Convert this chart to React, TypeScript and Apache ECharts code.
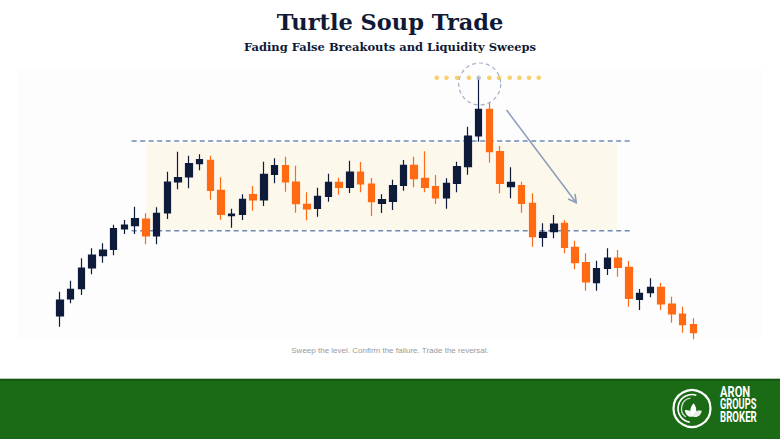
import React, { useEffect, useRef } from "react";
import * as echarts from "echarts";

// ---------- data ----------
const categories = Array.from({ length: 60 }, (_, i) => `Bar ${i + 1}`);

const opens = [
  24, 41, 51.3, 72, 84.3, 90.7, 111, 114.3, 121, 104,
  127, 158, 163, 176.3, 179.7, 149.7, 124.3, 125.7, 145.3, 140,
  165.7, 174.3, 158, 135.7, 131.7, 143.7, 157.7, 152.7, 168, 156,
  136.7, 138.7, 154.7, 174.7, 161.7, 153.3, 142, 156.7, 173.3, 204,
  230.7, 188.3, 153.3, 154.3, 136.7, 102.7, 108.3, 116.7, 92.7, 77.3,
  57.3, 71.7, 82, 72.7, 40.7, 47.3, 52.7, 36, 26, 15.3,
];
const closes = [
  40, 50.7, 72, 85, 90, 111.3, 115, 121.3, 104, 126.7,
  158, 162.3, 176.3, 180.3, 149.7, 125.7, 126, 140.7, 140, 165.7,
  174.3, 158, 136.3, 131, 143.7, 157.7, 152.7, 168, 156, 138.3,
  140.3, 154.3, 174.7, 161.3, 152.7, 142, 156.7, 173.3, 204, 230.7,
  188.3, 156.7, 157.7, 136.7, 103.3, 107.7, 116, 92.7, 77.3, 58,
  71.3, 82, 72.7, 41.7, 46.7, 52.7, 36, 26, 15.3, 7.3,
];
const lows = [
  13.3, 36.7, 45, 65.7, 77.3, 84.7, 106, 106, 95.7, 95.7,
  121, 150.7, 151.7, 169.7, 140.3, 120.3, 112.3, 120, 129.3, 134,
  156.7, 148.3, 127.3, 119.7, 123.3, 138.3, 145.3, 147, 147.7, 124,
  127, 130, 149.3, 152.7, 147.7, 136, 131.3, 147.7, 165.3, 198.3,
  177.3, 146.7, 141.7, 127.3, 93.3, 93.3, 101.7, 86.7, 70.7, 49.3,
  49.3, 65, 63.3, 33.3, 30, 42.7, 30, 17.3, 7.3, 0.7,
];
const highs = [
  48.3, 59.3, 81.7, 91.7, 96.7, 115.3, 120, 133.3, 126.7, 132.7,
  168.3, 188.3, 184.3, 185.7, 184.3, 162.7, 131.3, 145.7, 154, 178.3,
  181.7, 183.3, 174.3, 147.7, 152.3, 166.3, 162.3, 179.3, 178, 162,
  145.7, 160.3, 180, 183.3, 188.7, 165, 161.7, 178.3, 213.3, 262,
  237.3, 194, 172.7, 158.3, 146.7, 116.7, 125, 120, 99.3, 86.7,
  79.3, 91.7, 90, 79, 51, 61.7, 57.3, 43.3, 33.3, 21.7,
];

// range / sweep levels (price units)
const rangeHigh = 199;
const rangeLow = 109.3;
const zoneTop = 197;
const zoneBottom = 110;
const sweepLevel = 262.3;

// overlay positions on the bar-index scale
const levelSpan = [6.68, 53.29];
const zoneSpan = [8.0, 51.9];
const sweepDotsX = [35.1, 36.0, 37.0, 38.1, 39.0, 40.0, 40.9, 41.9, 42.8, 43.7, 44.6];
const sweepWickIndex = 39;
const circleCenter = [39.1, 256];
const arrowFrom = [41.6, 230];
const arrowTo = [48.1, 137.3];

const texts = {
  title: "Turtle Soup Trade",
  subtitle: "Fading False Breakouts and Liquidity Sweeps",
  caption: "Sweep the level. Confirm the failure. Trade the reversal.",
  brand: ["ARON", "GROUPS", "BROKER"],
};

const NAVY = "#0f1b3b";
const ORANGE = "#ff6a12";
const LEVEL = "#6f89b2";

const LEAF =
  "M0 0 C-5 -3 -5.5 -9 0 -14 C5.5 -9 5 -3 0 0 Z";

export default function App() {
  const ref = useRef<HTMLDivElement>(null);

  useEffect(() => {
    if (!ref.current) return;
    try {
      echarts.graphic.registerShape("leaf", echarts.graphic.extendPath(LEAF, {}));
    } catch (e) {}
    const chart = echarts.init(ref.current, null, { renderer: "svg" });

    const candleData = opens.map((o, i) => [o, closes[i], lows[i], highs[i]]);

    chart.setOption({
      animation: false,
      backgroundColor: "#ffffff",
      grid: { left: 54.6, right: 81.3, top: 60, bottom: 99 },
      xAxis: [
        {
          type: "category",
          data: categories,
          show: false,
          boundaryGap: true,
        },
        {
          type: "value",
          min: -0.5,
          max: 59.5,
          show: false,
        },
      ],
      yAxis: {
        type: "value",
        min: 0,
        max: 280,
        show: false,
        splitLine: { show: false },
      },
      series: [
        {
          type: "line",
          xAxisIndex: 1,
          data: [
            [levelSpan[0], rangeHigh],
            [levelSpan[1], rangeHigh],
          ],
          symbol: "none",
          lineStyle: { color: LEVEL, width: 1.6, type: [5, 3.5] },
          z: 3,
          markArea: {
            silent: true,
            itemStyle: { color: "#fdf8ec" },
            data: [
              [
                { xAxis: zoneSpan[0], yAxis: zoneTop },
                { xAxis: zoneSpan[1], yAxis: zoneBottom },
              ],
            ],
          },
        },
        {
          type: "line",
          xAxisIndex: 1,
          data: [
            [levelSpan[0], rangeLow],
            [levelSpan[1], rangeLow],
          ],
          symbol: "none",
          lineStyle: { color: LEVEL, width: 1.6, type: [5, 3.5] },
          z: 3,
        },
        {
          type: "candlestick",
          xAxisIndex: 0,
          data: candleData,
          barWidth: 7,
          itemStyle: {
            color: NAVY,
            color0: ORANGE,
            borderColor: NAVY,
            borderColor0: ORANGE,
            borderWidth: 1.2,
          },
          z: 5,
        },
        {
          type: "scatter",
          xAxisIndex: 1,
          data: sweepDotsX.map((x) => ({
            value: [x, sweepLevel],
            itemStyle: {
              color: Math.abs(x - sweepWickIndex) < 0.3 ? "#a8b6cc" : "#f6c44a",
            },
          })),
          symbolSize: 4.6,
          z: 6,
        },
        {
          type: "scatter",
          xAxisIndex: 1,
          data: [circleCenter],
          symbol: "circle",
          symbolSize: 42,
          itemStyle: {
            color: "rgba(0,0,0,0)",
            borderColor: "#8b9dbb",
            borderWidth: 1.2,
            borderType: [4, 3],
          },
          z: 7,
        },
      ],
    });

    const p0 = chart.convertToPixel({ xAxisIndex: 1, yAxisIndex: 0 }, arrowFrom) as number[];
    const p1 = chart.convertToPixel({ xAxisIndex: 1, yAxisIndex: 0 }, arrowTo) as number[];
    const ang = Math.atan2(p1[1] - p0[1], p1[0] - p0[0]);
    const head = 9;
    const spread = 0.5;
    const h1 = [p1[0] - head * Math.cos(ang - spread), p1[1] - head * Math.sin(ang - spread)];
    const h2 = [p1[0] - head * Math.cos(ang + spread), p1[1] - head * Math.sin(ang + spread)];

    const lc = [692, 408.5];

    chart.setOption({
      graphic: [
        {
          type: "rect",
          z: -10,
          shape: { x: 18, y: 67, width: 744, height: 272 },
          style: { fill: "#fdfdfd" },
          silent: true,
        },
        {
          type: "text",
          x: 390,
          y: 21.5,
          style: {
            text: texts.title,
            fill: "#101a36",
            font: "bold 22.5px 'DejaVu Serif'",
            textAlign: "center",
            textVerticalAlign: "middle",
          },
        },
        {
          type: "text",
          x: 390,
          y: 47,
          style: {
            text: texts.subtitle,
            fill: "#101a36",
            font: "bold 11.5px 'DejaVu Serif'",
            textAlign: "center",
            textVerticalAlign: "middle",
          },
        },
        {
          type: "text",
          x: 390,
          y: 350,
          style: {
            text: texts.caption,
            fill: "#9a9a9a",
            font: "8px 'Liberation Sans'",
            textAlign: "center",
            textVerticalAlign: "middle",
          },
        },
        {
          type: "line",
          z: 100,
          shape: { x1: p0[0], y1: p0[1], x2: p1[0], y2: p1[1] },
          style: { stroke: "#8a9cb9", lineWidth: 1.5 },
        },
        {
          type: "polyline",
          z: 100,
          shape: { points: [h1, p1, h2] },
          style: { stroke: "#8a9cb9", lineWidth: 1.5, fill: null },
        },
        // footer
        {
          type: "rect",
          z: 1,
          shape: { x: 0, y: 378, width: 780, height: 1.2 },
          style: { fill: "#b9c5b8" },
        },
        {
          type: "rect",
          z: 1,
          shape: { x: 0, y: 379, width: 780, height: 60 },
          style: { fill: "#1b6a16" },
        },
        {
          type: "rect",
          z: 1,
          shape: { x: 0, y: 379, width: 780, height: 2 },
          style: { fill: "#165a12" },
        },
        {
          type: "circle",
          z: 2,
          shape: { cx: lc[0], cy: lc[1], r: 18.5 },
          style: { stroke: "#ffffff", lineWidth: 2.2, fill: null },
        },
        {
          type: "arc",
          z: 2,
          shape: { cx: lc[0], cy: lc[1], r: 14, startAngle: Math.PI * 0.55, endAngle: Math.PI * 1.6 },
          style: { stroke: "#ffffff", lineWidth: 1.6, fill: null },
        },
        {
          type: "arc",
          z: 2,
          shape: { cx: lc[0], cy: lc[1], r: 10.5, startAngle: Math.PI * 0.7, endAngle: Math.PI * 1.45 },
          style: { stroke: "rgba(255,255,255,0.8)", lineWidth: 1.3, fill: null },
        },
        {
          type: "leaf",
          z: 2,
          x: lc[0] + 1,
          y: lc[1] + 8,
          rotation: 0.9,
          scaleX: 0.7,
          scaleY: 0.75,
          style: { fill: "#f2f5f0" },
        },
        {
          type: "leaf",
          z: 2,
          x: lc[0] + 1,
          y: lc[1] + 8,
          rotation: -0.05,
          scaleX: 0.75,
          scaleY: 0.95,
          style: { fill: "#ffffff" },
        },
        {
          type: "leaf",
          z: 2,
          x: lc[0] + 1,
          y: lc[1] + 8,
          rotation: -1.0,
          scaleX: 0.7,
          scaleY: 0.75,
          style: { fill: "#e8eee6" },
        },
        {
          type: "text",
          z: 2,
          x: 720,
          y: 391,
          scaleX: 0.72,
          style: {
            text: texts.brand[0],
            fill: "#ffffff",
            font: "bold 15.5px Roboto",
            textAlign: "left",
            textVerticalAlign: "middle",
          },
        },
        {
          type: "text",
          z: 2,
          x: 720,
          y: 404,
          scaleX: 0.66,
          style: {
            text: texts.brand[1],
            fill: "#ffffff",
            font: "bold 14px Roboto",
            textAlign: "left",
            textVerticalAlign: "middle",
          },
        },
        {
          type: "text",
          z: 2,
          x: 720,
          y: 417.5,
          scaleX: 0.69,
          style: {
            text: texts.brand[2],
            fill: "#ffffff",
            font: "bold 14px Roboto",
            textAlign: "left",
            textVerticalAlign: "middle",
          },
        },
      ],
    });

    return () => chart.dispose();
  }, []);

  return (
    <div
      ref={ref}
      style={{ position: "fixed", left: 0, top: 0, width: 780, height: 439 }}
    />
  );
}
